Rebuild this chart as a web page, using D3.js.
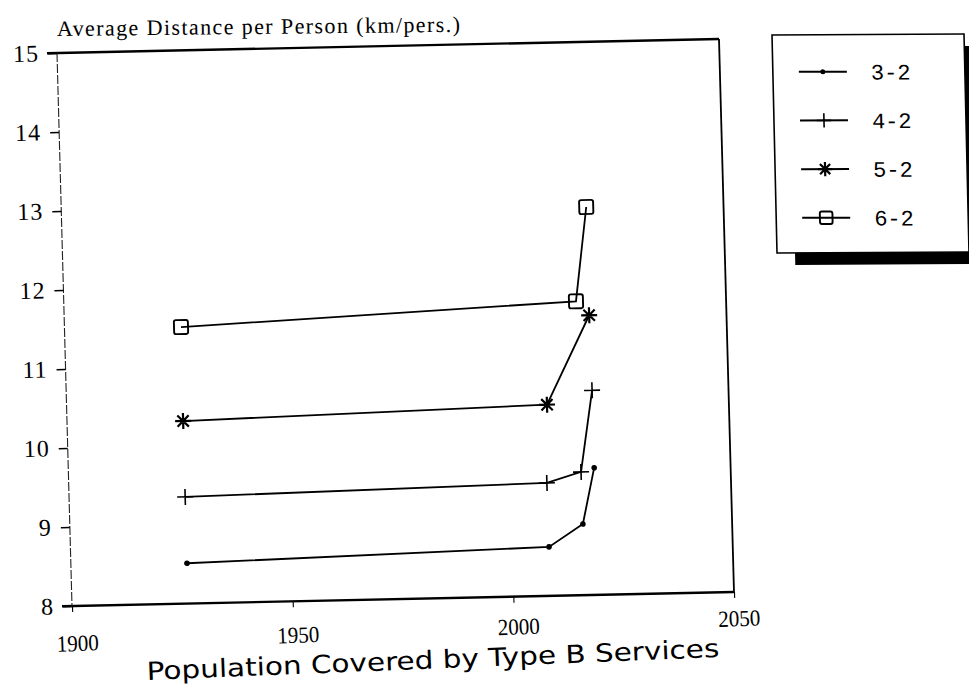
<!DOCTYPE html>
<html><head><meta charset="utf-8">
<script src="https://cdn.jsdelivr.net/npm/d3@7"></script>
<style>body{margin:0;background:#fff}svg{display:block}</style>
</head><body>
<svg id="c" width="969" height="695"></svg>
<script>
// ---- data ----
const seriesNames = ["3-2", "4-2", "5-2", "6-2"];
const years32 = [1926.3, 2008.4, 2016.2, 2019.1];
const vals32  = [8.51, 8.62, 8.90, 9.61];
const years42 = [1926.3, 2008.3, 2016.1, 2019.1];
const vals42  = [9.35, 9.43, 9.56, 10.59];
const years52 = [1926.3, 2008.8, 2018.9];
const vals52  = [10.31, 10.42, 11.54];
const years62 = [1926.4, 2016.0, 2018.9];
const vals62  = [11.50, 11.72, 12.91];
const xTicks = [1900, 1950, 2000, 2050];
const yTicks = [8, 9, 10, 11, 12, 13, 14, 15];
const titleText = "Average Distance per Person (km/pers.)";
const xTitleText = "Population Covered by Type B Services";

const markerTypes = ["dot", "plus", "star", "square"];
const series = [
  {name: seriesNames[0], xs: years32, ys: vals32, m: markerTypes[0]},
  {name: seriesNames[1], xs: years42, ys: vals42, m: markerTypes[1]},
  {name: seriesNames[2], xs: years52, ys: vals52, m: markerTypes[2]},
  {name: seriesNames[3], xs: years62, ys: vals62, m: markerTypes[3]}
];

const W = 662, H = 553;
const svg = d3.select("#c");
const x = d3.scaleLinear().domain([1900, 2050]).range([0, W]);
const y = d3.scaleLinear().domain([8, 15]).range([H, 0]);

const mono = "'Liberation Mono', 'DejaVu Sans Mono', monospace";
const serif = "'Liberation Serif', 'DejaVu Serif', serif";

// scanned page is slightly skewed: plot drawn in an affine frame
const g = svg.append("g").attr("transform", "matrix(1,-0.02115,0.02712,1,57,53)");

// frame
g.append("line").attr("x1", -10).attr("x2", W).attr("y1", 0).attr("y2", 0)
  .attr("stroke", "#000").attr("stroke-width", 2.4);
g.append("line").attr("x1", -10).attr("x2", W).attr("y1", H).attr("y2", H)
  .attr("stroke", "#000").attr("stroke-width", 2.4);
g.append("line").attr("x1", W).attr("x2", W).attr("y1", 0).attr("y2", H)
  .attr("stroke", "#000").attr("stroke-width", 1.8);
g.append("line").attr("x1", 0).attr("x2", 0).attr("y1", 0).attr("y2", H)
  .attr("stroke", "#222").attr("stroke-width", 1.1).attr("stroke-dasharray", "9,2");

// y axis
const ya = g.append("g").call(d3.axisLeft(y).tickValues(yTicks).tickSize(9).tickPadding(9).tickFormat(d3.format("d")));
ya.select(".domain").remove();
ya.selectAll("line").attr("stroke", "#000").attr("stroke-width", 1.4);
ya.selectAll("text").attr("font-family", serif).attr("font-size", 24).attr("fill", "#000")
  .attr("letter-spacing", 1);

// x ticks
const xa = g.append("g").attr("transform", `translate(0,${H})`)
  .call(d3.axisBottom(x).tickValues(xTicks).tickSize(6).tickFormat(""));
xa.select(".domain").remove();
xa.selectAll("line").attr("stroke", "#000").attr("stroke-width", 1.1);

// x tick labels (more tilted on the scan)
const xl = svg.append("g").attr("transform", "translate(78,651) rotate(-2.15)");
xl.selectAll("text").data(xTicks).join("text")
  .attr("x", d => x(d)).attr("y", 0).attr("text-anchor", "middle")
  .attr("font-family", serif).attr("font-size", 23)
  .attr("transform", d => `translate(${x(d)},0) scale(0.92,1) translate(${-x(d)},0)`)
  .text(d => d);

// x title
svg.append("text").attr("transform", "translate(147,680) rotate(-2.3)")
  .attr("font-family", "'DejaVu Sans', sans-serif").attr("font-size", 25)
  .attr("textLength", 573).attr("lengthAdjust", "spacingAndGlyphs")
  .text(xTitleText);

// title
svg.append("text").attr("transform", "translate(57,36) rotate(-0.6)")
  .attr("font-family", serif).attr("font-size", 22)
  .attr("textLength", 403).attr("lengthAdjust", "spacing")
  .text(titleText);

// marker drawer
function drawMarker(sel, type, s) {
  if (type === "dot") {
    sel.append("circle").attr("r", 2.8 * s).attr("fill", "#000");
  } else if (type === "plus") {
    const r = 8 * s;
    sel.append("path").attr("d", `M${-r},0H${r}M0,${-r}V${r}`)
      .attr("stroke", "#000").attr("stroke-width", 1.6).attr("fill", "none");
  } else if (type === "star") {
    const r = 8 * s;
    let d = "";
    for (let k = 0; k < 4; k++) {
      const a = k * Math.PI / 4;
      d += `M${-r * Math.cos(a)},${-r * Math.sin(a)}L${r * Math.cos(a)},${r * Math.sin(a)}`;
    }
    sel.append("path").attr("d", d).attr("stroke", "#000").attr("stroke-width", 2.2).attr("fill", "none");
  } else {
    const r = 7 * s;
    sel.append("rect").attr("x", -r).attr("y", -r).attr("width", 2 * r).attr("height", 2 * r)
      .attr("rx", 2).attr("fill", "none").attr("stroke", "#000").attr("stroke-width", 1.9);
  }
}

const line = d3.line().x(d => x(d[0])).y(d => y(d[1]));
series.forEach(s => {
  const pts = s.xs.map((v, i) => [v, s.ys[i]]);
  g.append("path").attr("d", line(pts)).attr("fill", "none")
    .attr("stroke", "#000").attr("stroke-width", 1.8);
  pts.forEach(p => {
    const mg = g.append("g").attr("transform", `translate(${x(p[0])},${y(p[1])})`);
    drawMarker(mg, s.m, 1);
  });
});

// legend
const lg = svg.append("g").attr("transform", "matrix(1,-0.005,0.023,1,772,35)");
const LW = 192, LH = 218;
lg.append("rect").attr("x", 18).attr("y", 12).attr("width", LW).attr("height", LH).attr("fill", "#000");
lg.append("rect").attr("x", 0).attr("y", 0).attr("width", LW).attr("height", LH)
  .attr("fill", "#fff").attr("stroke", "#000").attr("stroke-width", 1.6);
const ly = d3.scalePoint().domain(seriesNames).range([37, 183]);
series.forEach(s => {
  const row = lg.append("g").attr("transform", `translate(0,${ly(s.name)})`);
  row.append("line").attr("x1", 26).attr("x2", 74).attr("stroke", "#000").attr("stroke-width", 2);
  const mg = row.append("g").attr("transform", "translate(50,0)");
  drawMarker(mg, s.m, 0.9);
  row.append("text").attr("x", 98).attr("y", 8).attr("font-family", mono).attr("font-size", 22)
    .text(s.name);
});
</script>
</body></html>
